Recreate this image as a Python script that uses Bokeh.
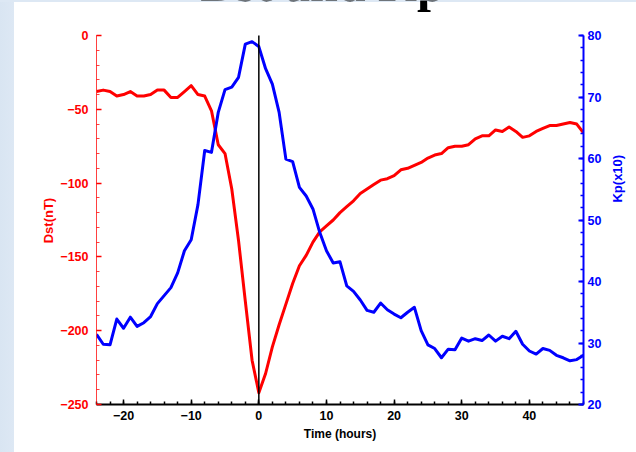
import math
from bokeh.plotting import figure
from bokeh.models import Range1d, LinearAxis, SingleIntervalTicker, Label
from bokeh.embed import file_html
from bokeh.resources import INLINE

# ---- data ----
title_text = "Dst and Kp"
hours = list(range(-24, 49))
dst = [-38, -37, -38, -41, -40, -38, -41, -41, -40, -37, -37, -42, -42, -38, -34, -40, -41,
       -51, -74, -80, -104, -139, -180, -220, -242,
       -229, -211, -196, -182, -168, -156, -149, -140, -133, -129, -125, -120, -116, -112,
       -107, -104, -101, -98, -97, -95, -91, -90, -88, -86, -83, -81, -80, -76, -75, -75,
       -74, -70, -68, -68, -64, -65, -62, -65, -69, -68, -65, -63, -61, -61, -60, -59, -60, -66]
kp = [31.4, 29.8, 29.7, 33.9, 32.4, 34.2, 32.7, 33.3, 34.3, 36.4, 37.7, 39.0, 41.4, 45.0, 46.8,
      52.5, 61.3, 61.0, 67.5, 71.2, 71.6, 73.2, 78.6, 79.0, 78.2,
      74.6, 72.1, 67.5, 59.9, 59.5, 55.3, 53.9, 51.8, 48.0, 45.0, 43.0, 43.2, 39.3, 38.4,
      37.0, 35.3, 35.0, 36.5, 35.4, 34.7, 34.1, 35.0, 35.8, 32.0, 29.7, 29.1, 27.6, 29.0,
      28.9, 30.8, 30.3, 30.7, 30.4, 31.3, 30.3, 31.1, 30.7, 31.9, 29.8, 28.7, 28.2, 29.1,
      28.8, 28.0, 27.6, 27.1, 27.3, 28.0]
x_limits = (-24, 48)
dst_limits = (-250, 0)
kp_limits = (20, 80)
event_time = 0

FONT = "Liberation Sans"
RED = "#ff0000"
BLUE = "#0000ff"
NBSP = "\u00a0"

W, H = 636, 452
TOP_GAP = 35            # empty band above the axes, where the cut title sits
BOTTOM = 48
axes_px = H - BOTTOM - TOP_GAP
# stretch the ranges so the frame reaches the top of the canvas; the axes stop at the limits
dst_top = dst_limits[1] + (dst_limits[1] - dst_limits[0]) * TOP_GAP / axes_px
kp_top = kp_limits[1] + (kp_limits[1] - kp_limits[0]) * TOP_GAP / axes_px

p = figure(width=W, height=H, output_backend="svg", toolbar_location=None,
           x_range=Range1d(*x_limits), y_range=Range1d(dst_limits[0], dst_top),
           min_border_left=96, min_border_right=53, min_border_top=0, min_border_bottom=BOTTOM)
p.extra_y_ranges = {"kp": Range1d(kp_limits[0], kp_top)}
p.xgrid.visible = False
p.ygrid.visible = False
p.outline_line_color = None
p.background_fill_color = None
p.border_fill_color = None
# light-blue textured strips along the left and top page edges, white elsewhere
p.styles = {"background": ("linear-gradient(to bottom, #dde8f4 0px, #dde8f4 2px, rgba(255,255,255,0) 2px), "
                           "linear-gradient(to right, #d9e5f2 0px, #dde8f4 14px, #ffffff 14px, #ffffff 100%)")}

def style_axis(ax, color, interval):
    ax.ticker = SingleIntervalTicker(interval=interval, num_minor_ticks=5)
    ax.axis_line_color = color
    ax.major_tick_line_color = color
    ax.minor_tick_line_color = color
    ax.major_tick_in = 5
    ax.major_tick_out = 0
    ax.minor_tick_in = 3
    ax.minor_tick_out = 0
    ax.major_label_text_color = color
    ax.major_label_text_font = FONT
    ax.major_label_text_font_style = "bold"
    ax.major_label_text_font_size = "12.5px"
    ax.axis_label_text_color = color
    ax.axis_label_text_font = FONT
    ax.axis_label_text_font_style = "bold"

xa = p.xaxis[0]
style_axis(xa, "black", 10)
xa.axis_line_width = 2
xa.major_tick_line_width = 1.5
xa.minor_tick_line_width = 1.5
xa.axis_label = "Time (hours)"
xa.axis_label_text_font_size = "12px"
xa.major_label_standoff = 6
xa.axis_label_standoff = 4

# padding (non-breaking spaces) keeps the axis titles centred on the axis, not the taller frame
PAD = NBSP * 10

ya = p.yaxis[0]
style_axis(ya, RED, 50)
ya.bounds = dst_limits
ya.axis_line_width = 1
ya.axis_line_alpha = 0.75
ya.major_tick_line_width = 1.5
ya.minor_tick_line_width = 1
ya.minor_tick_line_alpha = 0.75
ya.axis_label = "Dst(nT)" + PAD
ya.axis_label_text_font_size = "13px"
ya.major_label_standoff = 8
ya.axis_label_standoff = 1

ra = LinearAxis(y_range_name="kp", bounds=kp_limits)
style_axis(ra, BLUE, 10)
ra.axis_line_width = 2
ra.major_tick_line_width = 2
ra.minor_tick_line_width = 1.5
ra.axis_label_text_font_size = "13px"
ra.major_label_standoff = 4
ra.axis_label_standoff = 13
try:
    ra.axis_label_orientation = math.pi / 2   # read bottom-to-top, like the left title
    ra.axis_label = "Kp(x10)" + PAD
except Exception:
    ra.axis_label = PAD + "Kp(x10)"
p.add_layout(ra, "right")

p.line(hours, dst, line_color=RED, line_width=3, line_join="round")
p.line(hours, kp, line_color=BLUE, line_width=3, line_join="round", y_range_name="kp")

# vertical marker at the event time, spanning the Dst axis only
p.segment(x0=[event_time], y0=[dst_limits[0]], x1=[event_time], y1=[dst_limits[1]],
          line_color="black", line_width=1.5)

# big title, mostly cut off above the page (as in the reference)
p.add_layout(Label(x=226, y=H - BOTTOM + 17, x_units="screen", y_units="screen", text=title_text,
                   text_align="center", text_baseline="alphabetic",
                   text_font="Liberation Serif", text_font_style="bold",
                   text_font_size="50px", text_color="black"))

open("out.html", "w").write(file_html(p, INLINE))
